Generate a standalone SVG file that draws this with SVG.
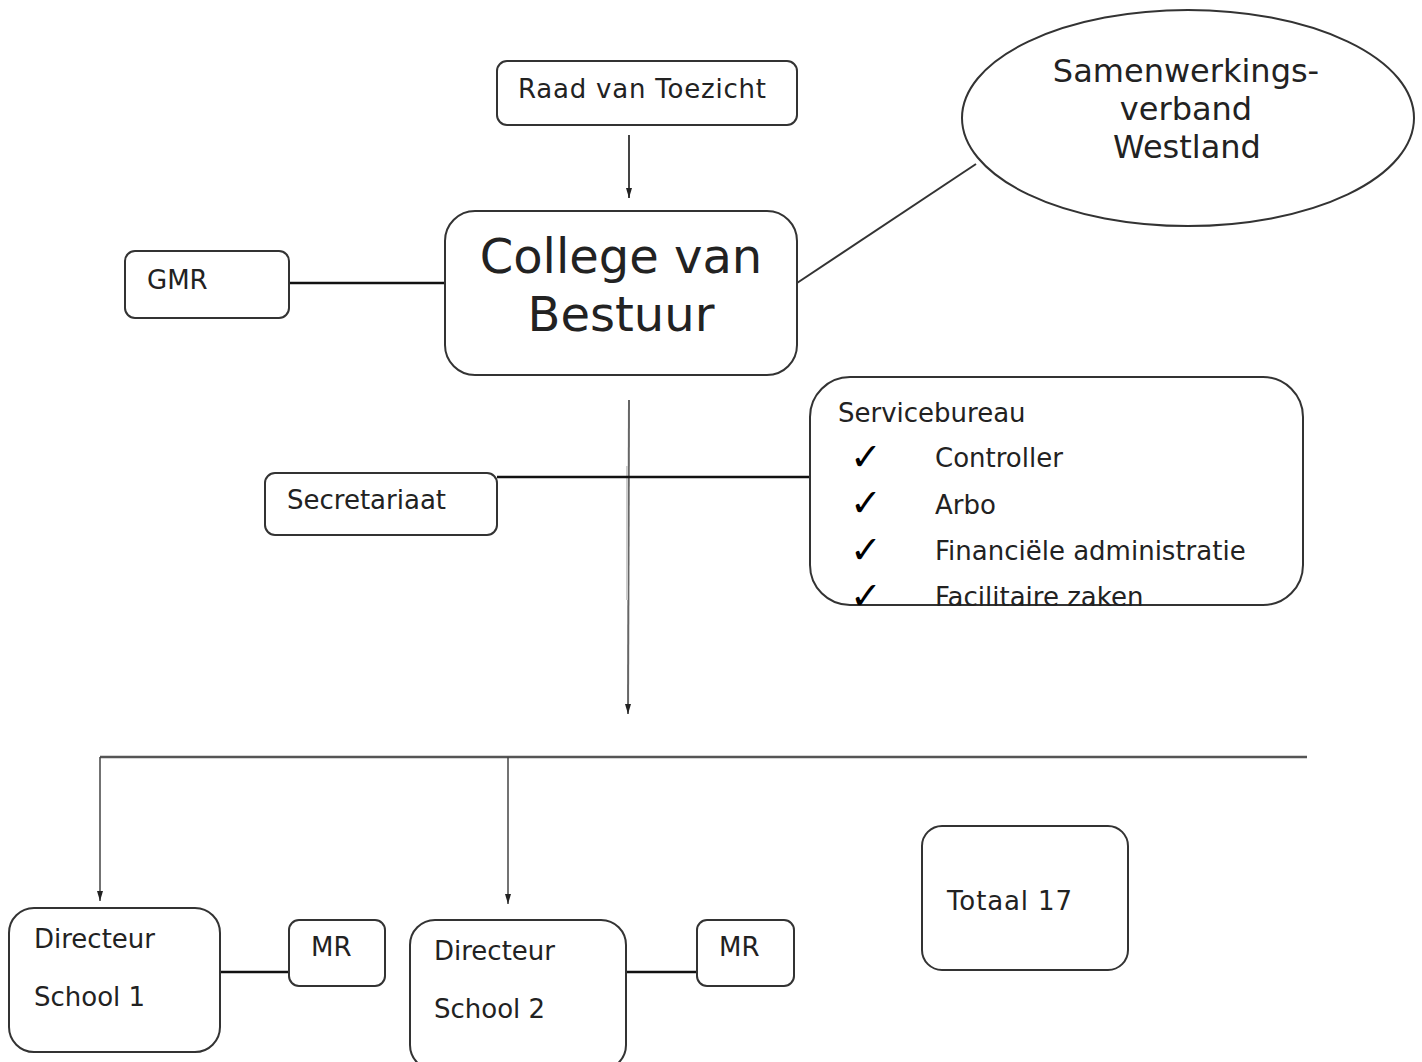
<svg xmlns="http://www.w3.org/2000/svg" width="1422" height="1062" viewBox="0 0 1422 1062">
<style>
.box{fill:#fff;stroke:#333;stroke-width:2}
.t{font-family:"DejaVu Sans",Verdana,sans-serif;fill:#222;font-size:26px}
.big{font-size:48px}
.ell{font-size:32px}
.ck{font-family:"DejaVu Sans",sans-serif;font-size:38px;fill:#000}
.ln{stroke:#111;stroke-width:2.5;fill:none}
</style>
<defs>
<marker id="ah2" markerWidth="6" markerHeight="10" refX="3" refY="10" orient="0" markerUnits="userSpaceOnUse" viewBox="0 0 6 10">
<path d="M0,0 L6,0 L3,10 Z" fill="#222"/>
</marker>
</defs>
<rect width="1422" height="1062" fill="#fff"/>
<g id="connectors">
<line x1="629" y1="135" x2="629" y2="198" stroke="#444" stroke-width="2" marker-end="url(#ah2)"/>
<line class="ln" x1="289" y1="283" x2="445" y2="283"/>
<line stroke="#333" stroke-width="2" x1="797" y1="283" x2="976" y2="164"/>
<line x1="629" y1="400" x2="628" y2="714" stroke="#666" stroke-width="2" marker-end="url(#ah2)"/>
<line x1="627" y1="466" x2="627" y2="600" stroke="#ccc" stroke-width="2"/>
<line class="ln" x1="497" y1="477" x2="809" y2="477"/>
<line x1="100" y1="757" x2="1307" y2="757" stroke="#555" stroke-width="2.5"/>
<line x1="100" y1="757" x2="100" y2="901" stroke="#444" stroke-width="1.5" marker-end="url(#ah2)"/>
<line x1="508" y1="757" x2="508" y2="904" stroke="#444" stroke-width="1.5" marker-end="url(#ah2)"/>
<line class="ln" x1="220" y1="972" x2="289" y2="972"/>
<line class="ln" x1="626" y1="972" x2="697" y2="972"/>
</g>
<g id="raad">
<rect class="box" x="497" y="61" width="300" height="64" rx="10"/>
<text class="t" x="518" y="98" textLength="248" lengthAdjust="spacing">Raad van Toezicht</text>
</g>
<g id="samenwerkingsverband">
<ellipse class="box" cx="1188" cy="118" rx="226" ry="108"/>
<text class="t ell" text-anchor="middle" x="1186" y="82">Samenwerkings-</text>
<text class="t ell" text-anchor="middle" x="1186" y="120">verband</text>
<text class="t ell" text-anchor="middle" x="1187" y="158">Westland</text>
</g>
<g id="college">
<rect class="box" x="445" y="211" width="352" height="164" rx="30"/>
<text class="t big" text-anchor="middle" x="621" y="273">College van</text>
<text class="t big" text-anchor="middle" x="621" y="331">Bestuur</text>
</g>
<g id="gmr">
<rect class="box" x="125" y="251" width="164" height="67" rx="10"/>
<text class="t" x="147" y="289">GMR</text>
</g>
<g id="secretariaat">
<rect class="box" x="265" y="473" width="232" height="62" rx="10"/>
<text class="t" x="287" y="509">Secretariaat</text>
</g>
<g id="servicebureau">
<rect class="box" x="810" y="377" width="493" height="228" rx="40"/>
<text class="t" x="838" y="422">Servicebureau</text>
<text class="ck" x="850" y="470">✓</text>
<text class="t" x="935" y="467">Controller</text>
<text class="ck" x="850" y="516">✓</text>
<text class="t" x="935" y="514">Arbo</text>
<text class="ck" x="850" y="563">✓</text>
<text class="t" x="935" y="560">Financiële administratie</text>
<text class="ck" x="850" y="609">✓</text>
<text class="t" x="935" y="606">Facilitaire zaken</text>
</g>
<g id="school1">
<rect class="box" x="9" y="908" width="211" height="144" rx="25"/>
<text class="t" x="34" y="948">Directeur</text>
<text class="t" x="34" y="1006">School 1</text>
</g>
<g id="mr1">
<rect class="box" x="289" y="920" width="96" height="66" rx="10"/>
<text class="t" x="311" y="956">MR</text>
</g>
<g id="school2">
<rect class="box" x="410" y="920" width="216" height="150" rx="25"/>
<text class="t" x="434" y="960">Directeur</text>
<text class="t" x="434" y="1018">School 2</text>
</g>
<g id="mr2">
<rect class="box" x="697" y="920" width="97" height="66" rx="10"/>
<text class="t" x="719" y="956">MR</text>
</g>
<g id="totaal">
<rect class="box" x="922" y="826" width="206" height="144" rx="20"/>
<text class="t" x="947" y="910" textLength="125" lengthAdjust="spacing">Totaal 17</text>
</g>
</svg>
